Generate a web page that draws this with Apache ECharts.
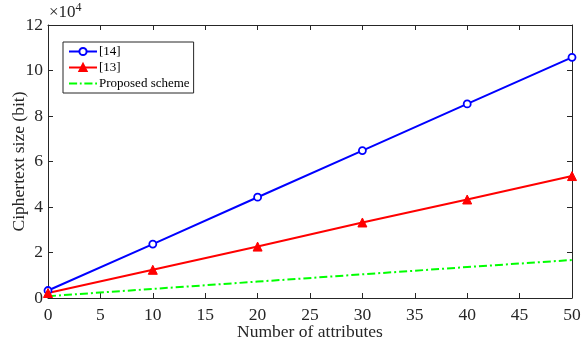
<!DOCTYPE html>
<html><head><meta charset="utf-8">
<script src="https://cdn.jsdelivr.net/npm/echarts@6/dist/echarts.min.js"></script>
<style>html,body{margin:0;padding:0;background:#fff}#c{width:581px;height:345px}</style>
</head><body><div id="c"></div>
<script>
const attributes = [0, 10, 20, 30, 40, 50];
const ref14 = [0.33, 2.37, 4.43, 6.48, 8.53, 10.58];
const ref13 = [0.22, 1.24, 2.26, 3.32, 4.33, 5.36];
const proposed = [0.08, 0.40, 0.72, 1.04, 1.36, 1.67];
const xTicks = [0, 5, 10, 15, 20, 25, 30, 35, 40, 45, 50];
const yTicks = [0, 2, 4, 6, 8, 10, 12];

const font = 'Liberation Serif';
const axisCol = '#262626';
const chart = echarts.init(document.getElementById('c'));
const pair = (xs, ys) => xs.map((x, i) => [x, ys[i]]);
const baseAxis = {
  axisLine: {show: true, onZero: false, lineStyle: {color: axisCol, width: 1}},
  axisTick: {show: true, inside: true, length: 5, lineStyle: {color: axisCol}},
  splitLine: {show: false}
};
const dashDot = 'path://M0,0h9v2h-9z M12,0h2v2h-2z M17,0h9v2h-9z M29,0h2v2h-2z';
chart.setOption({
  animation: false,
  grid: {left: 48, right: 9, top: 25, bottom: 47, containLabel: false, outerBoundsMode: 'none'},
  xAxis: [
    Object.assign({}, baseAxis, {type: 'value', min: 0, max: 50, interval: 5, position: 'bottom',
      name: 'Number of attributes', nameLocation: 'middle', nameGap: 25, nameMoveOverlap: false,
      nameTextStyle: {fontFamily: font, fontSize: 17.5, color: '#262626'},
      axisLabel: {fontFamily: font, fontSize: 17.5, color: '#262626', margin: 8}}),
    Object.assign({}, baseAxis, {type: 'value', min: 0, max: 50, interval: 5, position: 'top',
      axisLabel: {show: false}})
  ],
  yAxis: [
    Object.assign({}, baseAxis, {type: 'value', min: 0, max: 12, interval: 2, position: 'left',
      name: 'Ciphertext size (bit)', nameLocation: 'middle', nameGap: 20, nameMoveOverlap: false,
      nameTextStyle: {fontFamily: font, fontSize: 17.5, color: '#262626'},
      axisLabel: {fontFamily: font, fontSize: 17.5, color: '#262626', margin: 5}}),
    Object.assign({}, baseAxis, {type: 'value', min: 0, max: 12, interval: 2, position: 'right',
      axisLabel: {show: false}})
  ],
  legend: {
    left: 63, top: 42, orient: 'vertical',
    padding: [3, 4, 3, 5], itemGap: 3, itemWidth: 28, itemHeight: 9,
    backgroundColor: '#fff', borderColor: axisCol, borderWidth: 1,
    textStyle: {fontFamily: font, fontSize: 13, color: '#000', padding: [0, 0, 0, -3]},
    data: ['[14]', '[13]', {name: 'Proposed scheme', icon: dashDot, itemStyle: {color: '#00ff00'}}]
  },
  graphic: [{
    type: 'text', left: 49, top: 2,
    style: {text: '{a|×10}{b|4}', rich: {
      a: {fontFamily: font, fontSize: 17, fill: '#262626'},
      b: {fontFamily: font, fontSize: 12, fill: '#262626', verticalAlign: 'top', padding: [0, 0, 9, 0]}
    }}
  }],
  series: [
    {name: '[14]', type: 'line', data: pair(attributes, ref14), color: '#0000ff',
      symbol: 'circle', symbolSize: 7,
      itemStyle: {color: '#fff', borderColor: '#0000ff', borderWidth: 1.8},
      lineStyle: {color: '#0000ff', width: 2}},
    {name: '[13]', type: 'line', data: pair(attributes, ref13), color: '#ff0000',
      symbol: 'triangle', symbolSize: 9,
      itemStyle: {color: '#ff0000', borderColor: '#ff0000', borderWidth: 1},
      lineStyle: {color: '#ff0000', width: 2}},
    {name: 'Proposed scheme', type: 'line', data: pair(attributes, proposed), color: '#00ff00',
      symbol: 'none', showSymbol: false,
      lineStyle: {color: '#00ff00', width: 2, type: [8, 3, 2, 3]}}
  ]
});
</script></body></html>
